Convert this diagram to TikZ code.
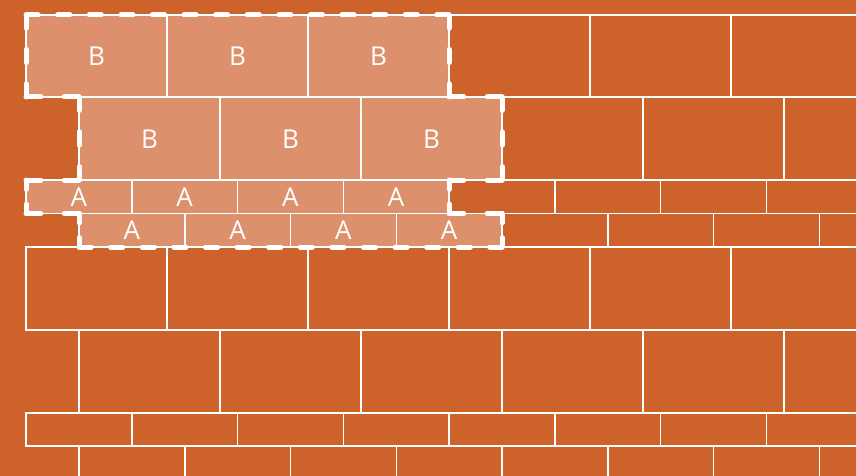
\documentclass[tikz,border=0pt]{standalone}
\usepackage{fontspec}
\setmainfont{Open Sans}
\definecolor{brick}{RGB}{205,98,43}
\definecolor{hilite}{RGB}{221,144,108}
\tikzset{
  brickline/.style={draw=white, line width=1.5pt},
  hibrick/.style={brickline, fill=hilite},
  lbl/.style={text=white, font=\fontsize{26}{26}\selectfont, inner sep=0pt, anchor=center},
  outline/.style={draw=white, line width=5pt, line cap=round, line join=round}
}
\begin{document}
\begin{tikzpicture}[x=1pt,y=-1pt]
\useasboundingbox (0,0) rectangle (856,476);
\fill[brick] (0,0) rectangle (856,476);
\begin{scope}
\clip (0,0) rectangle (856,476);
% rows: top, bottom, x start, width, count, number highlighted
\foreach \yt/\yb/\xs/\w/\n/\h in {
  15/97/26/141/6/3,
  97/180/79/141/6/3,
  180/213.5/26/105.75/8/4,
  213.5/247/79/105.75/8/4,
  247/330/26/141/6/0,
  330/413/79/141/6/0,
  413/446/26/105.75/8/0,
  446/480/79/105.75/8/0}{
  \foreach \i in {1,...,\n}{
    \pgfmathsetmacro{\xa}{\xs+(\i-1)*\w}
    \pgfmathsetmacro{\xb}{\xs+\i*\w}
    \ifnum\i>\h
      \draw[brickline] (\xa,\yt) rectangle (\xb,\yb);
    \else
      \draw[hibrick] (\xa,\yt) rectangle (\xb,\yb);
    \fi
  }
}
\end{scope}
% labels
\node[lbl] (b1) at (96.5,56) {B};
\node[lbl] (b2) at (237.5,56) {B};
\node[lbl] (b3) at (378.5,56) {B};
\node[lbl] (b4) at (149.5,139) {B};
\node[lbl] (b5) at (290.5,139) {B};
\node[lbl] (b6) at (431.5,139) {B};
\node[lbl] (a1) at (78.9,197) {A};
\node[lbl] (a2) at (184.6,197) {A};
\node[lbl] (a3) at (290.4,197) {A};
\node[lbl] (a4) at (396.1,197) {A};
\node[lbl] (a5) at (131.9,230.5) {A};
\node[lbl] (a6) at (237.6,230.5) {A};
\node[lbl] (a7) at (343.4,230.5) {A};
\node[lbl] (a8) at (449.1,230.5) {A};
% dashed outline, each edge with dashes at both corners
\foreach \xa/\ya/\xb/\yb in {
  26/15/449/15, 449/15/449/97, 449/97/502/97, 502/97/502/180,
  502/180/449/180, 449/180/449/213.5, 449/213.5/502/213.5, 502/213.5/502/247,
  502/247/79/247, 79/247/79/213.5, 79/213.5/26/213.5, 26/213.5/26/180,
  26/180/79/180, 79/180/79/97, 79/97/26/97, 26/97/26/15}{
  \pgfmathsetmacro{\L}{veclen(\xb-\xa,\yb-\ya)}
  \pgfmathsetmacro{\nn}{max(1,round((\L-12)/31))}
  \pgfmathsetmacro{\dA}{\L/(\nn+1+\nn*19/12)}
  \pgfmathsetmacro{\dB}{\dA*19/12}
  \draw[outline, dash pattern=on \dA pt off \dB pt] (\xa,\ya) -- (\xb,\yb);
}
\end{tikzpicture}
\end{document}
